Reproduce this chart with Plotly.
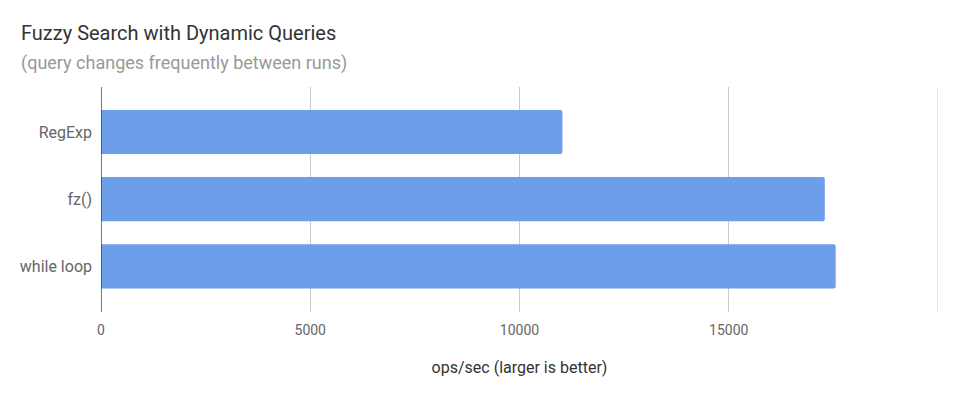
import plotly.graph_objects as go

categories = ["RegExp", "fz()", "while loop"]
values = [11025, 17295, 17555]
x_ticks = [0, 5000, 10000, 15000, 20000]
x_tick_labels = ["0", "5000", "10000", "15000", ""]

title = "Fuzzy Search with Dynamic Queries"
subtitle = "(query changes frequently between runs)"
x_title = "ops/sec (larger is better)"

# the page body adds an 8px offset, so the figure is laid out in shifted coordinates
OFF = 8
W, H = 958 - OFF, 398 - OFF
L, R, T, B = 99 - OFF, 19.5, 87 - OFF, 86
pw, ph = W - L - R, H - T - B

def px(x):
    return (x - OFF - L) / pw

def py(y):
    return (H - B - (y - OFF)) / ph

fig = go.Figure(
    go.Bar(
        x=values,
        y=categories,
        orientation="h",
        width=0.657,
        marker=dict(color="#6d9eeb", line=dict(width=0), cornerradius=2),
        hoverinfo="x+y",
    )
)

fig.update_layout(
    width=W,
    height=H,
    margin=dict(l=L, r=R, t=T, b=B, pad=0),
    paper_bgcolor="white",
    plot_bgcolor="white",
    font=dict(family="Roboto", color="#666666"),
    showlegend=False,
    xaxis=dict(
        range=[0, 20000],
        tickvals=x_ticks,
        ticktext=x_tick_labels,
        showgrid=True,
        gridcolor="#cccccc",
        gridwidth=1,
        zeroline=False,
        showline=False,
        ticks="",
        tickfont=dict(size=14, color="#666666"),
        ticklabelstandoff=8,
        title=dict(text=x_title, font=dict(size=16, color="#333333"), standoff=24),
        fixedrange=True,
    ),
    yaxis=dict(
        type="category",
        categoryorder="array",
        categoryarray=categories,
        range=[2.68, -0.67],
        showgrid=False,
        zeroline=False,
        showline=False,
        ticks="",
        tickfont=dict(size=16, color="#666666"),
        ticklabelstandoff=8,
        fixedrange=True,
    ),
    shapes=[
        dict(type="line", xref="x", yref="paper", x0=x_ticks[-1], x1=x_ticks[-1], y0=0, y1=1,
             line=dict(color="#cccccc", width=1), layer="below"),
        dict(type="line", xref="x", yref="paper", x0=0, x1=0, y0=0, y1=1,
             line=dict(color="#333333", width=1.3)),
    ],
    annotations=[
        dict(text=title, xref="paper", yref="paper", x=px(17), y=py(33),
             xanchor="left", yanchor="middle", showarrow=False,
             font=dict(size=20, color="#333333", family="Roboto")),
        dict(text=subtitle, xref="paper", yref="paper", x=px(17), y=py(63),
             xanchor="left", yanchor="middle", showarrow=False,
             font=dict(size=18, color="#999999", family="Roboto")),
    ],
)

fig.write_html("out.html")
